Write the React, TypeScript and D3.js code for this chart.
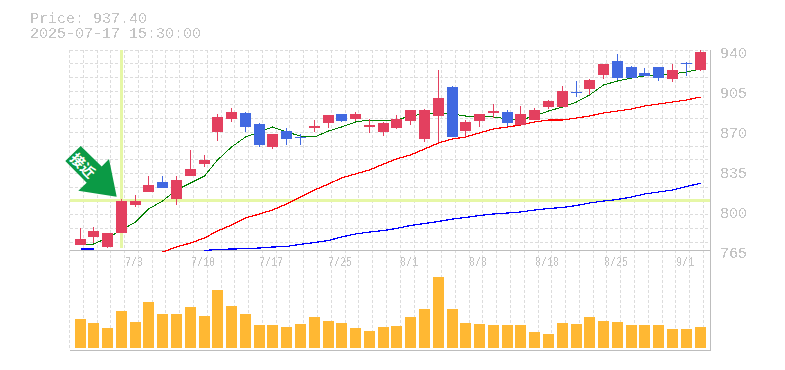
import React from "react";
import * as d3 from "d3";

const title = "Price: 937.40";
const subtitle = "2025-07-17 15:30:00";
const priceTicks = [940, 905, 870, 835, 800, 765];
const crossPrice = 808.75;
const dateLabels = ["7/3", "7/10", "7/17", "7/25", "8/1", "8/8", "8/18", "8/25", "9/1"];
const dateLabelIndex = [4, 9, 14, 19, 24, 29, 34, 39, 44];
const crossIndex = 3;

// candle values stored in pixel-read chart units, converted to prices below
const topBody = [239,231,233,201,201,185,182,180,169,160,117,112,113,124,134,131,137,126,115,114,114,125,123,119,110,110,98,87,122,114,111,112,114,110,101,91,92,80,64,61,67,73,67,70,63,52];
const botBody = [245,237,247,233,205,192,188,199,176,164,132,119,127,145,147,139,138,128,123,121,119,127,132,128,121,139,116,137,131,121,113,123,125,120,107,107,93,89,75,78,78,76,78,79,64,70];
const wickHigh = [228,227,233,199,195,176,176,176,150,155,114,108,112,123,134,128,134,120,115,114,112,119,122,115,110,109,70,86,120,114,104,110,106,108,100,86,81,79,64,54,66,68,67,64,62,50];
const wickLow = [245,243,248,233,207,192,188,205,176,167,141,122,132,147,149,145,145,132,128,122,121,133,136,129,125,142,142,137,137,127,118,126,125,120,109,107,97,95,79,80,78,76,81,82,76,71];
const isBlue = [0,0,0,0,0,0,1,0,0,0,0,0,1,1,0,1,1,0,0,1,0,0,0,0,0,0,0,1,0,0,0,1,0,0,0,0,1,0,0,1,1,1,1,0,1,0];
const volume = [29,25,20,37,26,46,34,34,41,32,58,42,34,23,23,21,24,31,27,25,20,17,21,22,31,39,71,39,25,24,23,23,23,16,14,25,24,31,27,26,23,23,23,19,19,21];
const maShort = [244,244,238,230,222,209,201,190,183,176,160,147,137,132,127,132,136,137,131,127,122,120,120,120,116,114,113,114,116,116,117,119,120,116,111,107,102,95,85,81,78,76,75,74,72,69];
const maMid = [null,null,null,null,null,null,252,247,243,238,231,225,218,214,210,204,197,190,184,178,174,170,164,159,155,149,143,139,137,133,129,127,125,122,120,120,118,116,113,111,109,106,104,102,100,97];
const maLong = [249,249,null,null,null,null,null,null,null,250.5,249.5,249,248.7,248,247,246.5,244.3,242.5,240.5,237,234,232,230.5,228.5,225.5,223.5,221.5,219,217.5,215.5,214,213,212,210,208.5,207.5,205.5,203,201,199.5,197,194,192,190,186.5,183.3];

const W = 785, H = 370;
const L = 70, R = 710, T = 50, B = 250, VB = 350;
const y = d3.scaleLinear().domain([765, 940]).range([B, T]);
const toPrice = (px: number) => y.invert(px);
const N = topBody.length;
const slot = d3.scaleLinear().domain([0, N]).range([L - 0.5, L + 13.78 * N - 0.5]);
const left = (i: number) => Math.floor(slot(i) + 5.5);
const vy = d3.scaleLinear().domain([0, 71]).range([348, 277]);
const hGrid = d3.range(0, 15).map((k) => Math.floor(T + 13.74 * k) + 0.5);
const vGrid = d3.range(0, N + 1).map((k) => Math.floor(slot(k)) + 0.5);

const mkLine = (vals: (number | null)[]) =>
  d3.line<number | null>()
    .defined((d) => d !== null)
    .x((_, i) => left(i) + 5.5)
    .y((d) => y(toPrice(d as number)))(vals) || "";

const GRID = "#dcdcdc", AXIS = "#bdbdbd", TXT = "#c4c4c4", CROSS = "#e6f7a6";
const RED = "#e3405f", BLUE = "#4169e1", VOL = "#ffb833", GREEN = "#0b9a45";
const FONT = "'Liberation Mono', monospace";

export default function App() {
  const crossX = left(crossIndex) + 4;
  const crossY = Math.round(y(crossPrice) - 1.5);
  return (
    <svg width={W} height={H} viewBox={`0 0 ${W} ${H}`} style={{ position: "fixed", left: 0, top: 0, background: "#fff" }}>
      <defs>
        <filter id="alias" x="-5%" y="-5%" width="110%" height="110%">
          <feComponentTransfer>
            <feFuncA type="discrete" tableValues="0 0 1 1" />
          </feComponentTransfer>
        </filter>
      </defs>
      <g stroke={GRID} strokeDasharray="3 2" shapeRendering="crispEdges">
        {hGrid.map((g) => <line key={g} x1={L} x2={R} y1={g} y2={g} />)}
        {vGrid.map((g) => <line key={g} x1={g} x2={g} y1={T} y2={VB} />)}
      </g>
      <g stroke={AXIS} shapeRendering="crispEdges">
        <line x1={L} x2={R + 0.5} y1={B + 0.5} y2={B + 0.5} />
        <line x1={L} x2={R + 0.5} y1={VB + 0.5} y2={VB + 0.5} />
        <line x1={R + 0.5} x2={R + 0.5} y1={T} y2={VB} />
      </g>
      <rect x={crossX} y={T} width={3} height={198} fill={CROSS} shapeRendering="crispEdges" />
      <rect x={L} y={crossY} width={R - L} height={3} fill={CROSS} shapeRendering="crispEdges" />
      <g fill="none" shapeRendering="crispEdges">
        <path d={mkLine(maLong)} stroke="#0000ff" strokeWidth={1.25} />
        <path d={mkLine(maMid)} stroke="#ff0000" strokeWidth={1.25} />
        <path d={mkLine(maShort)} stroke="#008000" strokeWidth={1} />
      </g>
      {topBody.map((_, i) => {
        const c = isBlue[i] ? BLUE : RED;
        const yHigh = y(toPrice(wickHigh[i])), yLow = y(toPrice(wickLow[i]));
        const yt = y(toPrice(topBody[i])), yb = y(toPrice(botBody[i]));
        return (
          <g key={i} fill={c} shapeRendering="crispEdges">
            <rect x={left(i) + 5} y={yHigh} width={1} height={yLow - yHigh} />
            <rect x={left(i)} y={yt} width={11} height={yb - yt} />
          </g>
        );
      })}
      {volume.map((v, i) => (
        <rect key={i} x={left(i)} y={vy(v)} width={11} height={348 - vy(v)} fill={VOL} shapeRendering="crispEdges" />
      ))}
      <polygon points="80.7,146 101.7,166.5 109,159 116.7,196.7 78.3,190.7 86.7,182.7 65.3,161" fill={GREEN} />
      <text transform="translate(83.5,165) rotate(45)" textAnchor="middle" dominantBaseline="central"
        fontFamily="'Noto Sans CJK JP'" fontWeight={700} fontSize={14} fill="#fff">接近</text>
      <g filter="url(#alias)" fontFamily={FONT} fill={TXT}>
        <text x={30} y={23} fontSize={15}>{title}</text>
        <text x={30} y={38} fontSize={15}>{subtitle}</text>
        {priceTicks.map((p) => (
          <text key={p} x={720} y={y(p) + 8} fontSize={15}>{p}</text>
        ))}
        {dateLabels.map((d, k) => (
          <text key={d} transform={`translate(${left(dateLabelIndex[k]) + 4},266) scale(1,1.3)`} fontSize={10} textAnchor="middle">{d}</text>
        ))}
      </g>
    </svg>
  );
}
